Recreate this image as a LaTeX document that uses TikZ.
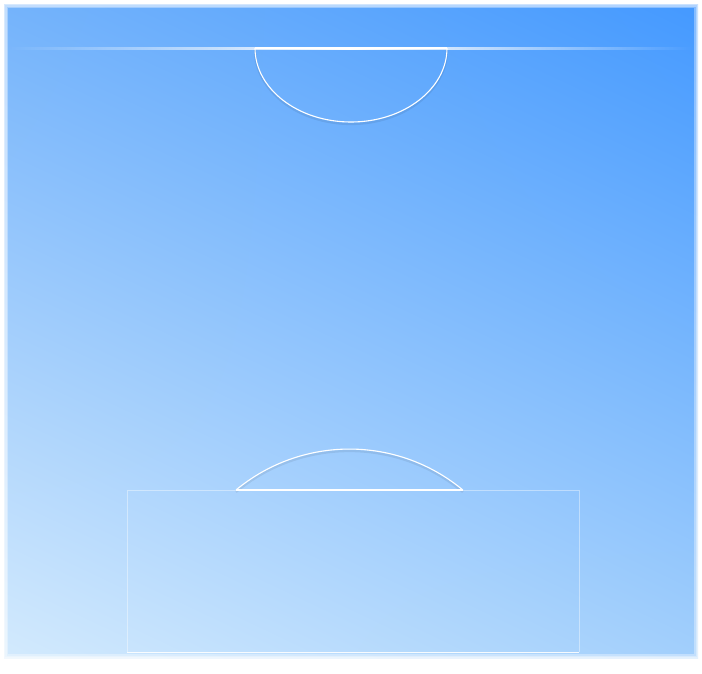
\documentclass[tikz,border=0pt]{standalone}
\usetikzlibrary{fadings,shadings}
\definecolor{cUR}{HTML}{4499FF}
\definecolor{cUL}{HTML}{74B3FB}
\definecolor{cLR}{HTML}{A2CFFC}
\definecolor{cLL}{HTML}{D3EAFD}
\tikzfading[name=fadeends, left color=transparent!100, right color=transparent!100, middle color=transparent!0]
\tikzset{
  courtline/.style={white, line width=1.1pt},
  faintline/.style={white, opacity=0.4, line width=0.8pt},
  shadowline/.style={black, opacity=0.07, line width=2.2pt},
  feather/.style={white, line width=#1, opacity=0.35}
}
\begin{document}
\begin{tikzpicture}[x=1pt,y=-1pt]
\useasboundingbox (0,0) rectangle (702,673);
\fill[white] (0,0) rectangle (702,673);
\shade[upper left=cUL, upper right=cUR, lower left=cLL, lower right=cLR] (4,4) rectangle (698,658);
% soft edge
\draw[feather=8pt] (4,4) rectangle (698,658);
\draw[feather=5pt] (4,4) rectangle (698,658);
\draw[feather=2.5pt] (4,4) rectangle (698,658);
% top line
\fill[white, path fading=fadeends] (8,47) rectangle (692,49.5);
% top half ellipse
\draw[shadowline] (255,50) arc[start angle=180, end angle=0, x radius=96, y radius=74];
\draw[courtline] (255,48) arc[start angle=180, end angle=0, x radius=96, y radius=74];
\draw[courtline] (255,48) -- (447,48);
% bottom box
\draw[faintline] (127,652) -- (127,490) -- (579,490) -- (579,652);
\draw[white, opacity=0.9, line width=1pt] (127,652) -- (579,652);
\draw[shadowline] (236,492) arc[start angle=230.3, end angle=309.7, radius=177.6];
\draw[courtline] (236,490) arc[start angle=230.3, end angle=309.7, radius=177.6];
\draw[courtline] (236,490) -- (463,490);
\end{tikzpicture}
\end{document}
